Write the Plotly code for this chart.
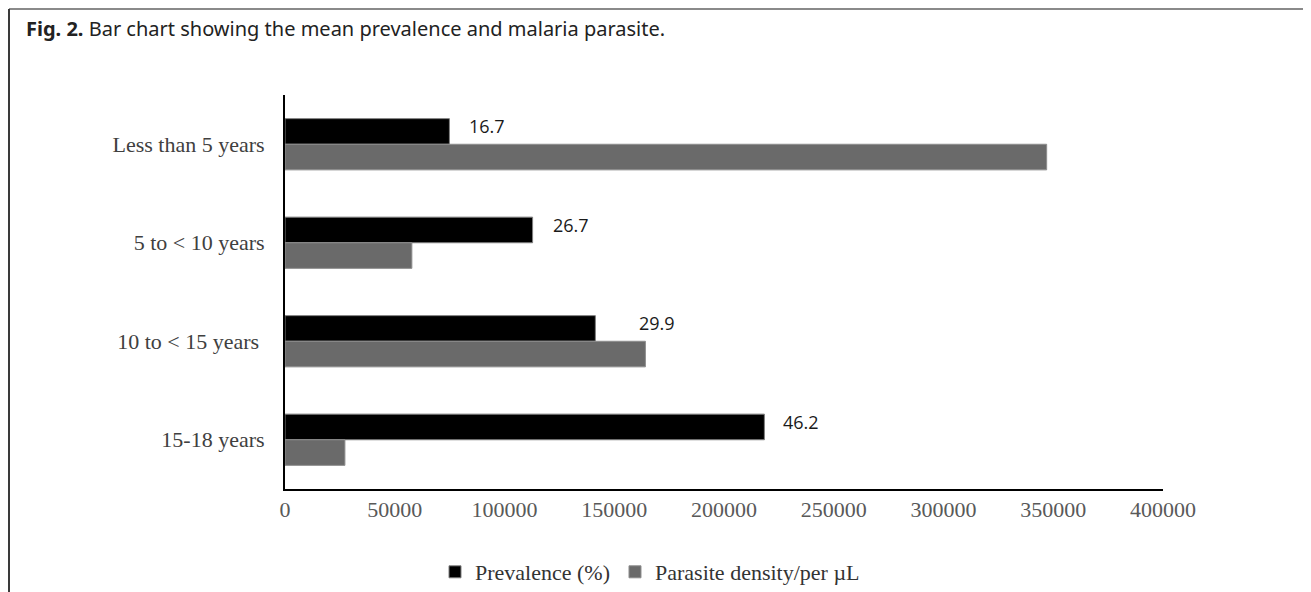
import plotly.graph_objects as go

# ---------------- data ----------------
age_groups = ["Less than 5 years", "5 to < 10 years", "10 to < 15 years", "15-18 years"]
age_tick_text = ["Less than 5 years", "5 to &lt; 10 years", "10 to &lt; 15 years\u00a0", "15-18 years"]
prevalence_pct = [16.7, 26.7, 29.9, 46.2]                      # printed labels
prevalence_bar_len = [74900, 112800, 141400, 218400]           # bar lengths as drawn on the axis
parasite_density = [347000, 57800, 164200, 27300]              # parasite density / per µL
x_tick_vals = [0, 50000, 100000, 150000, 200000, 250000, 300000, 350000, 400000]

# ---------------- layout constants (page pixels) ----------------
OFF = 8                      # default body margin of the html page
W, H = 1311 - OFF, 592 - OFF
PLOT_L, PLOT_R, PLOT_T, PLOT_B = 285, 1163, 95, 489   # plot area on the page
L = PLOT_L - OFF
T = PLOT_T - OFF
R = W - (PLOT_R - OFF)
B = H - (PLOT_B - OFF)
PW, PH = W - L - R, H - T - B
BARGAP = 0.48


def px_x(px):
    return (px - OFF - L) / PW


def px_y(py):
    return (H - B - (py - OFF)) / PH


fig = go.Figure()
fig.add_trace(go.Bar(
    y=age_groups, x=prevalence_bar_len, orientation="h", name="Prevalence (%)",
    marker=dict(color="#000000", line=dict(color="#7f7f7f", width=1)),
))
fig.add_trace(go.Bar(
    y=age_groups, x=parasite_density, orientation="h", name="Parasite density/per µL",
    marker=dict(color="#6a6a6a", line=dict(color="#8e8e8e", width=1)),
))

# data labels for prevalence
cat_px = PH / len(age_groups)
bar_px = (1 - BARGAP) * cat_px / 2
label_xshift = [18, 18, 42, 17]
for g, xv, lab, xs in zip(age_groups, prevalence_bar_len, prevalence_pct, label_xshift):
    fig.add_annotation(
        x=xv, y=g, text=f"{lab}", showarrow=False, xanchor="left", yanchor="middle",
        xshift=xs, yshift=bar_px / 2 + 5,
        font=dict(family="Open Sans", size=18, color="#1a1a1a"),
    )

# figure caption
fig.add_annotation(
    xref="paper", yref="paper", x=px_x(24), y=px_y(28), xanchor="left", yanchor="middle",
    text="<b>Fig. 2.</b> Bar chart showing the mean prevalence and malaria parasite.",
    showarrow=False, font=dict(family="Noto Sans", size=20, color="#222222"),
)

# outer frame
frame = [
    dict(x0=px_x(9), x1=px_x(1309), y0=px_y(9), y1=px_y(9), color="#8a8a8a", width=2),
    dict(x0=px_x(9), x1=px_x(9), y0=px_y(9), y1=px_y(600), color="#3a3a3a", width=2),
    dict(x0=px_x(1309), x1=px_x(1309), y0=px_y(9), y1=px_y(600), color="#3a3a3a", width=2),
]
for f in frame:
    fig.add_shape(type="line", xref="paper", yref="paper", x0=f["x0"], x1=f["x1"],
                  y0=f["y0"], y1=f["y1"], line=dict(color=f["color"], width=f["width"]))

fig.update_layout(
    width=W, height=H,
    margin=dict(l=L, r=R, t=T, b=B, pad=0, autoexpand=False),
    paper_bgcolor="white", plot_bgcolor="white",
    barmode="group", bargap=BARGAP, bargroupgap=0,
    showlegend=True,
    legend=dict(
        orientation="h", x=px_x(435), y=px_y(572), xanchor="left", yanchor="middle",
        font=dict(family="Liberation Serif", size=22, color="#333333"),
        itemwidth=30, tracegroupgap=0, bgcolor="rgba(0,0,0,0)",
    ),
    xaxis=dict(
        range=[0, 400000], tickvals=x_tick_vals, ticktext=[str(v) for v in x_tick_vals],
        showgrid=False, zeroline=False, showline=True, linecolor="#000000", linewidth=1.5,
        ticks="", tickfont=dict(family="Liberation Serif", size=22, color="#595959"),
        fixedrange=True,
    ),
    yaxis=dict(
        categoryorder="array", categoryarray=age_groups, autorange="reversed",
        tickvals=age_groups, ticktext=age_tick_text,
        showgrid=False, zeroline=False, showline=True, linecolor="#000000", linewidth=2,
        ticks="", ticklabelstandoff=14,
        tickfont=dict(family="Liberation Serif", size=22, color="#404040"),
        fixedrange=True,
    ),
)

fig.write_html("out.html")
